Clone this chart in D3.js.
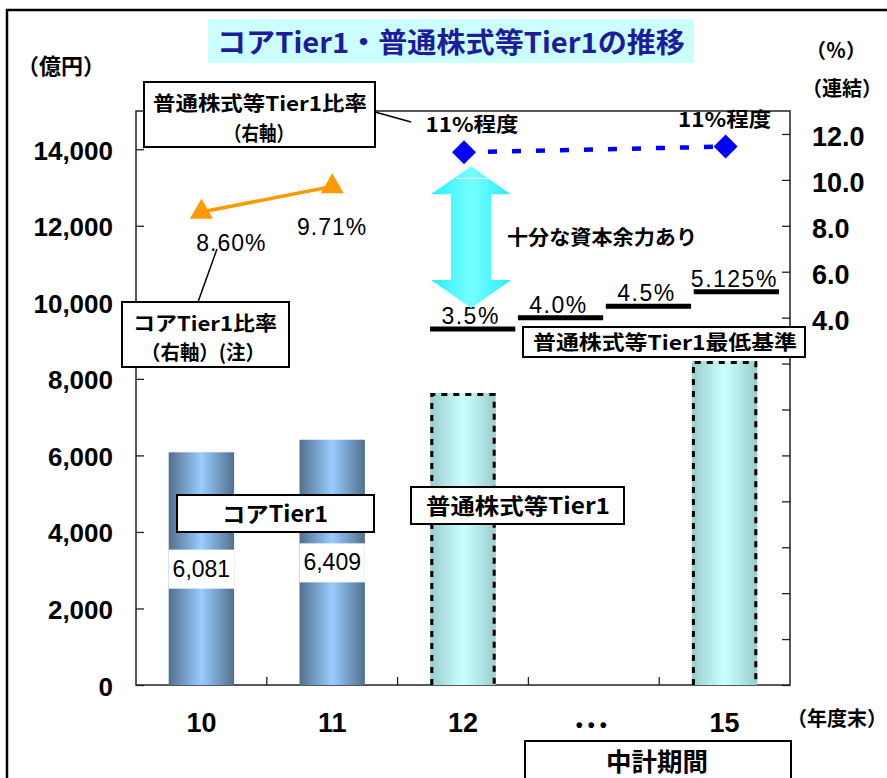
<!DOCTYPE html>
<meta charset="utf-8">
<style>
  body { margin: 0; background: #fff; }
  text { font-family: "Noto Sans CJK JP", sans-serif; }
  .num { font-family: "Liberation Sans", Arial, sans-serif; }
</style>
<body>
<svg width="887" height="778"></svg>
<script src="https://d3js.org/d3.v7.min.js"></script>
<script>
  // data
  var years = ["10", "11", "12", "•••", "15"]
  var coreYears = ["10", "11"]
  var coreTier1 = [6081, 6409]
  var cetYears = ["12", "15"]
  var cetTier1 = [7630, 8470]
  var coreRatio = [8.60, 9.71]
  var cetRatio = [11.2, 11.45]
  var minYears = ["12", "13", "14", "15"]
  var minRatio = [3.5, 4.0, 4.5, 5.125]
  var minLabels = ["3.5%", "4.0%", "4.5%", "5.125%"]
  var leftTicks = [0, 2000, 4000, 6000, 8000, 10000, 12000, 14000]
  var rightTicks = [-12, -10, -8, -6, -4, -2, 0, 2, 4, 6, 8, 10, 12]
  var rightLabels = [4, 6, 8, 10, 12]

  var svg = d3.select("svg")
  var defs = svg.append("defs")

  function grad(id, edge, mid) {
    var g = defs.append("linearGradient").attr("id", id)
      .attr("x1", "0%").attr("x2", "100%").attr("y1", "0%").attr("y2", "0%")
    g.append("stop").attr("offset", "0%").attr("stop-color", edge)
    g.append("stop").attr("offset", "50%").attr("stop-color", mid)
    g.append("stop").attr("offset", "100%").attr("stop-color", edge)
  }
  grad("gCore", "#52708f", "#99ccff")
  grad("gCet", "#99cccc", "#ccffff")
  grad("gArrow", "#22eeff", "#77ffff")

  // plot area edges (top is a reserved window name, so p-prefix)
  var pL = 136, pR = 790, pT = 111, pB = 685

  var xb = d3.scaleBand().domain(years).range([pL, pR])
  var x = d3.scaleBand().domain(years).range([pL, pR]).paddingInner(0.5).paddingOuter(0.25)
  var y = d3.scaleLinear().domain([0, 15000]).range([pB, pT])
  var y2 = d3.scaleLinear().domain([-12, 13]).range([pB, pT])
  var xm = d3.scaleBand().domain(minYears).range([430, 779]).paddingInner(0.03)
  var cx = function(d) { return xb(d) + xb.bandwidth() / 2 }

  // outer frame
  svg.append("rect").attr("x", 7).attr("y", 10).attr("width", 900).attr("height", 800)
    .attr("fill", "none").attr("stroke", "#000").attr("stroke-width", 2.5)

  // plot frame
  svg.append("rect").attr("x", pL).attr("y", pT).attr("width", pR - pL).attr("height", pB - pT)
    .attr("fill", "none").attr("stroke", "#222").attr("stroke-width", 1.5)

  // core tier1 bars
  svg.append("g").selectAll("rect").data(coreTier1).enter().append("rect")
    .attr("x", function(d, i) { return x(coreYears[i]) })
    .attr("width", x.bandwidth())
    .attr("y", function(d) { return y(d) })
    .attr("height", function(d) { return pB - y(d) })
    .attr("fill", "url(#gCore)")

  // CET1 bars with dotted outline
  svg.append("g").selectAll("rect").data(cetTier1).enter().append("rect")
    .attr("x", function(d, i) { return x(cetYears[i]) })
    .attr("width", x.bandwidth())
    .attr("y", function(d) { return y(d) })
    .attr("height", function(d) { return pB - y(d) })
    .attr("fill", "url(#gCet)")
  svg.append("g").selectAll("path").data(cetTier1).enter().append("path")
    .attr("d", function(d, i) {
      var x0 = x(cetYears[i]) + 1.5, x1 = x(cetYears[i]) + x.bandwidth() - 1.5, yt = y(d) + 1.5
      return "M" + x0 + "," + pB + "V" + yt + "H" + x1 + "V" + pB
    })
    .attr("fill", "none").attr("stroke", "#000").attr("stroke-width", 3)
    .attr("stroke-dasharray", "6,6")

  // value labels on core bars (white gap)
  var vl = svg.append("g")
  coreTier1.forEach(function(d, i) {
    var yc = y(d / 2)
    vl.append("rect").attr("x", x(coreYears[i])).attr("width", x.bandwidth())
      .attr("y", yc - 19).attr("height", 39).attr("fill", "#fff")
    vl.append("text").attr("class", "num").attr("x", cx(coreYears[i])).attr("y", yc + 8)
      .attr("text-anchor", "middle").attr("font-size", 23).text(d3.format(",")(d))
  })

  // axes
  var ax = svg.append("g").attr("transform", "translate(" + pL + ",0)")
    .call(d3.axisLeft(y).tickValues(leftTicks).tickSize(-8).tickPadding(23).tickFormat(d3.format(",")))
  var ax2 = svg.append("g").attr("transform", "translate(" + pR + ",0)")
    .call(d3.axisRight(y2).tickValues(rightTicks).tickSize(-8).tickPadding(22)
      .tickFormat(function(d) { return rightLabels.indexOf(d) > -1 ? d.toFixed(1) : "" }))
  var axb = svg.append("g").attr("transform", "translate(0," + pB + ")")
    .call(d3.axisBottom(xb).tickSize(0).tickPadding(47))
  ;[ax, ax2, axb].forEach(function(a) {
    a.select(".domain").remove()
    a.selectAll("line").attr("stroke", "#222").attr("stroke-width", 1.3)
    a.selectAll("text").attr("class", "num").attr("font-weight", "bold").attr("fill", "#000")
  })
  ax.selectAll("text").attr("font-size", 26).attr("dy", 10)
  ax2.selectAll("text").attr("font-size", 27).attr("dy", 12)
  axb.selectAll("text").attr("font-size", 27).attr("dy", 0)
  axb.selectAll("text").filter(function(d) { return d === "•••" }).attr("font-size", 20).attr("letter-spacing", 5)
  // band boundary ticks
  svg.append("g").selectAll("line").data(years.slice(1)).enter().append("line")
    .attr("x1", function(d) { return xb(d) }).attr("x2", function(d) { return xb(d) })
    .attr("y1", pB).attr("y2", pB - 8)
    .attr("stroke", "#222").attr("stroke-width", 1.3)

  function box(x0, y0, w, h) {
    svg.append("rect").attr("x", x0).attr("y", y0).attr("width", w).attr("height", h)
      .attr("fill", "#fff").attr("stroke", "#000").attr("stroke-width", 2)
  }
  function label(t, xc, yb, size, len, weight) {
    var el = svg.append("text").attr("x", xc).attr("y", yb).attr("text-anchor", "middle")
      .attr("font-size", size).attr("font-weight", weight || "bold").text(t)
    if (len) el.attr("textLength", len).attr("lengthAdjust", "spacingAndGlyphs")
    return el
  }

  // legend boxes on bars
  box(177, 495, 197, 37)
  label("コアTier1", 275, 522, 22, 106)
  box(411, 487, 213, 37)
  label("普通株式等Tier1", 518, 514, 22, 184)

  // minimum CET1 requirement lines
  svg.append("g").selectAll("line").data(minRatio).enter().append("line")
    .attr("x1", function(d, i) { return xm(minYears[i]) })
    .attr("x2", function(d, i) { return xm(minYears[i]) + xm.bandwidth() })
    .attr("y1", function(d) { return y2(d) }).attr("y2", function(d) { return y2(d) })
    .attr("stroke", "#000").attr("stroke-width", 5)
  svg.append("g").selectAll("text").data(minRatio).enter().append("text")
    .attr("class", "num")
    .attr("x", function(d, i) { return xm(minYears[i]) + xm.bandwidth() / 2 - 2 })
    .attr("y", function(d) { return y2(d) - 5 })
    .attr("text-anchor", "middle").attr("font-size", 23).attr("letter-spacing", 1.5)
    .text(function(d, i) { return minLabels[i] })
  box(523, 327, 282, 30)
  label("普通株式等Tier1最低基準", 665, 350, 20, 264)

  // double arrow
  var ax0 = cx("12") + 8
  var aTop = y2(cetRatio[0]) + 14, aBot = y2(minRatio[0]) - 21
  var hw = 40, sw = 20, hh = 28
  svg.append("path")
    .attr("d", "M" + ax0 + "," + aTop + "L" + (ax0 + hw) + "," + (aTop + hh) + "H" + (ax0 + sw) +
      "V" + (aBot - hh) + "H" + (ax0 + hw) + "L" + ax0 + "," + aBot + "L" + (ax0 - hw) + "," + (aBot - hh) +
      "H" + (ax0 - sw) + "V" + (aTop + hh) + "H" + (ax0 - hw) + "Z")
    .attr("fill", "url(#gArrow)")
  svg.append("line").attr("x1", ax0 - 15).attr("x2", ax0 + 22).attr("y1", aTop + 12).attr("y2", aTop + 12)
    .attr("stroke", "#fff").attr("stroke-width", 1)
  label("十分な資本余力あり", 602, 245, 20, 190)

  // core tier1 ratio (orange)
  var line = d3.line().x(function(d, i) { return cx(coreYears[i]) }).y(function(d) { return y2(d) })
  svg.append("path").datum(coreRatio).attr("d", line)
    .attr("fill", "none").attr("stroke", "#ff9900").attr("stroke-width", 3.5)
  svg.append("g").selectAll("path").data(coreRatio).enter().append("path")
    .attr("d", d3.symbol(d3.symbolTriangle, 230))
    .attr("transform", function(d, i) { return "translate(" + cx(coreYears[i]) + "," + y2(d) + ")" })
    .attr("fill", "#ff9900")
  svg.append("g").selectAll("text").data(coreRatio).enter().append("text")
    .attr("class", "num")
    .attr("x", function(d, i) { return cx(coreYears[i]) + (i === 0 ? 30 : 0) })
    .attr("y", function(d, i) { return y2(d) + (i === 0 ? 39 : 48) })
    .attr("text-anchor", "middle").attr("font-size", 23).attr("letter-spacing", 1)
    .text(function(d) { return d.toFixed(2) + "%" })
  svg.append("line").attr("x1", 217).attr("y1", 249).attr("x2", 198).attr("y2", 302)
    .attr("stroke", "#000").attr("stroke-width", 1.5)
  box(122, 302, 167, 65)
  label("コアTier1比率", 205, 331, 20, 144)
  label("（右軸）(注）", 203, 360, 20, 124)

  // CET1 ratio (blue)
  var line2 = d3.line().x(function(d, i) { return cx(cetYears[i]) + 1 }).y(function(d) { return y2(d) })
  svg.append("path").datum(cetRatio).attr("d", line2)
    .attr("fill", "none").attr("stroke", "#0000ff").attr("stroke-width", 4.5)
    .attr("stroke-dasharray", "9,15")
  svg.append("g").selectAll("path").data(cetRatio).enter().append("path")
    .attr("d", "M0,-12L12,0L0,12L-12,0Z")
    .attr("transform", function(d, i) { return "translate(" + (cx(cetYears[i]) + 1) + "," + y2(d) + ")" })
    .attr("fill", "#0000ff")
  svg.append("g").selectAll("text").data(cetRatio).enter().append("text")
    .attr("x", function(d, i) { return cx(cetYears[i]) + (i === 0 ? 9 : 0) })
    .attr("y", function(d) { return y2(d) - 20 })
    .attr("text-anchor", "middle").attr("font-size", 20).attr("font-weight", "bold")
    .attr("textLength", 93).attr("lengthAdjust", "spacingAndGlyphs")
    .text("11%程度")
  svg.append("line").attr("x1", 375).attr("y1", 112).attr("x2", 411).attr("y2", 122)
    .attr("stroke", "#000").attr("stroke-width", 1.5)
  box(144, 82, 231, 65)
  label("普通株式等Tier1比率", 260, 111, 20, 214)
  label("（右軸）", 259, 141, 20, 70)

  // title and units
  svg.append("rect").attr("x", 208).attr("y", 19).attr("width", 486).attr("height", 44).attr("fill", "#ccffff")
  label("コアTier1・普通株式等Tier1の推移", 451, 53, 28, 468).attr("fill", "#1c1c9c")
  label("（億円）", 61, 74, 22)
  label("（％）", 836, 58, 20)
  label("（連結）", 842, 96, 20)
  svg.append("text").attr("x", 887).attr("y", 726).attr("text-anchor", "end")
    .attr("font-size", 20).attr("font-weight", "bold").text("（年度末）")

  // plan period box
  box(525, 741, 266, 60)
  label("中計期間", 657, 771, 25, 102)
</script>
</body>
